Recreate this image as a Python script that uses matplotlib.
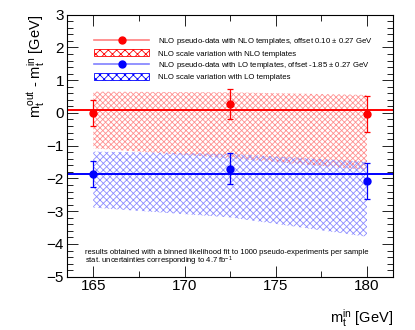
import numpy as np
import matplotlib
matplotlib.use('Agg')
import matplotlib.pyplot as plt
from matplotlib.lines import Line2D
from matplotlib.patches import Patch
from matplotlib.ticker import MultipleLocator

plt.rcParams['font.family'] = ['Liberation Sans', 'DejaVu Sans']
plt.rcParams['mathtext.fontset'] = 'custom'
plt.rcParams['mathtext.rm'] = 'Liberation Sans'
plt.rcParams['mathtext.it'] = 'Liberation Sans'
plt.rcParams['hatch.linewidth'] = 0.6

# input top masses
mass_in = [165.0, 172.5, 180.0]

# NLO pseudo-data with NLO templates
nlo_val = [0.0, 0.27, -0.03]
nlo_err = [0.41, 0.46, 0.56]
nlo_offset = 0.10
nlo_band_hi = [0.65, 0.63, 0.55]
nlo_band_lo = [-1.08, -1.38, -1.74]

# NLO pseudo-data with LO templates
lo_val = [-1.87, -1.70, -2.08]
lo_err = [0.40, 0.47, 0.55]
lo_offset = -1.85
lo_band_hi = [-1.18, -1.25, -1.49]
lo_band_lo = [-2.89, -3.19, -3.78]

labels = ['NLO pseudo-data with NLO templates, offset 0.10 $\\pm$ 0.27 GeV',
          'NLO scale variation with NLO templates',
          'NLO pseudo-data with LO templates, offset -1.85 $\\pm$ 0.27 GeV',
          'NLO scale variation with LO templates']

red = '#ff0000'
blue = '#0000ff'
red_light = '#ff8080'
blue_light = '#8080ff'

fig = plt.figure(figsize=(4.15, 3.3), dpi=100)
ax = fig.add_axes([0.161, 0.1615, 0.787, 0.794])

# scale variation bands
ax.fill_between(mass_in, nlo_band_lo, nlo_band_hi, facecolor='none',
                edgecolor='#ff9090', hatch='xxxxxx', linewidth=0)
ax.fill_between(mass_in, lo_band_lo, lo_band_hi, facecolor='none',
                edgecolor='#8c8cff', hatch='xxxxx', linewidth=0)

# offsets
ax.axhline(nlo_offset, color=red, lw=1.4)
ax.axhline(lo_offset, color=blue, lw=1.4)

# pseudo-data points
ax.errorbar(mass_in, nlo_val, yerr=nlo_err, fmt='o', color=red, ms=5,
            elinewidth=0.9, capsize=2, capthick=0.9)
ax.errorbar(mass_in, lo_val, yerr=lo_err, fmt='o', color=blue, ms=5,
            elinewidth=0.9, capsize=2, capthick=0.9)

ax.set_xlim(163.55, 181.45)
ax.set_ylim(-5, 3)
ax.xaxis.set_major_locator(MultipleLocator(5))
ax.xaxis.set_minor_locator(MultipleLocator(2.5))
ax.yaxis.set_major_locator(MultipleLocator(1))
ax.yaxis.set_minor_locator(MultipleLocator(0.2))
ax.tick_params(which='both', direction='in', top=True, right=True, width=0.6)
ax.tick_params(which='major', length=8, labelsize=11, pad=2)
ax.tick_params(which='minor', length=4)
for s in ax.spines.values():
    s.set_linewidth(0.8)

ax.set_xlabel('m$_\\mathrm{t}^\\mathrm{in}$ [GeV]', fontsize=10.5, loc='right', labelpad=10)
ax.set_ylabel('m$_\\mathrm{t}^\\mathrm{out}$ - m$_\\mathrm{t}^\\mathrm{in}$ [GeV]', fontsize=10.5,
              loc='top', labelpad=0)

handles = [Line2D([], [], color=red_light, marker='o', mfc=red, mec=red, ms=5, lw=1.2),
           Patch(facecolor='none', edgecolor=red, hatch='xxxx', lw=0.6),
           Line2D([], [], color=blue_light, marker='o', mfc=blue, mec=blue, ms=5, lw=1.2),
           Patch(facecolor='none', edgecolor=blue, hatch='xxxx', lw=0.6)]
ax.legend(handles, labels, loc='upper left', bbox_to_anchor=(0.075, 0.93), frameon=False,
          fontsize=5.6, handlelength=7.0, handleheight=1.0, labelspacing=0.3,
          handletextpad=1.2, borderaxespad=0)

ax.text(0.055, 0.088, 'results obtained with a binned likelihood fit to 1000 pseudo-experiments per sample',
        transform=ax.transAxes, fontsize=5.5)
ax.text(0.055, 0.05, 'stat. uncertainties corresponding to 4.7 fb$^{-1}$',
        transform=ax.transAxes, fontsize=5.5)

fig.savefig('out.png', dpi=100)
